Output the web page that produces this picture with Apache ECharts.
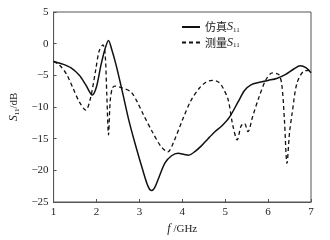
<!DOCTYPE html>
<html>
<head>
<meta charset="utf-8">
<script src="https://cdn.jsdelivr.net/npm/echarts@6/dist/echarts.min.js"></script>
<style>
	html, body { margin: 0; padding: 0; background: #fff; }
	#chartDom { width: 330px; height: 240px; }
</style>
</head>
<body>
<div id="chartDom"></div>
<script>
// 仿真 S11
var freqSim = [1.0, 1.2, 1.4, 1.6, 1.75, 1.9, 2.0, 2.1, 2.2, 2.28, 2.35, 2.45, 2.6, 2.75, 2.9, 3.08, 3.2, 3.28, 3.35, 3.45, 3.6, 3.75, 3.9, 4.05, 4.15, 4.3, 4.45, 4.6, 4.76, 4.92, 5.1, 5.3, 5.45, 5.6, 5.8, 6.0, 6.2, 6.4, 6.6, 6.75, 6.88, 7.0];
var s11Sim = [-2.8, -3.2, -3.8, -5.0, -6.5, -8.1, -6.8, -3.5, -0.8, 0.5, -0.8, -3.2, -7.5, -12, -15.8, -20, -22.5, -23.2, -22.8, -21.2, -18.8, -17.7, -17.3, -17.5, -17.6, -17.0, -16.1, -15, -13.9, -13, -11.6, -9.2, -7.4, -6.5, -6.1, -5.8, -5.5, -4.9, -4.0, -3.5, -3.8, -4.6];

// 测量 S11
var freqMeas = [1.0, 1.14, 1.3, 1.45, 1.6, 1.75, 1.86, 1.98, 2.06, 2.15, 2.2, 2.24, 2.28, 2.32, 2.37, 2.43, 2.6, 2.8, 2.95, 3.1, 3.3, 3.5, 3.66, 3.8, 4.0, 4.2, 4.4, 4.55, 4.7, 4.85, 4.95, 5.07, 5.18, 5.28, 5.37, 5.45, 5.53, 5.64, 5.79, 5.95, 6.1, 6.25, 6.32, 6.38, 6.44, 6.5, 6.56, 6.67, 6.82, 6.98];
var s11Meas = [-2.8, -3.4, -4.8, -7.0, -9.2, -10.5, -8.6, -4.2, -1.2, -0.2, -1.5, -8, -14.4, -9, -7, -6.7, -7.0, -7.6, -9.2, -11.3, -13.9, -16.2, -17.1, -15.5, -12.1, -9.0, -7.0, -6.1, -5.8, -6.1, -7.0, -8.9, -13, -15.2, -13, -12.6, -13.9, -11.5, -8.4, -5.7, -4.6, -4.9, -6.5, -12, -18.9, -14, -11, -6.3, -4.4, -4.2];

var xTicks = [1, 2, 3, 4, 5, 6, 7];
var yTicks = [-25, -20, -15, -10, -5, 0, 5];

var seriesNames = ['仿真S11', '测量S11'];

chartS11();

function pairs(xs, ys) {
	return xs.map(function(x, i) {
		return [x, ys[i]];
	});
}

function chartS11() {
	var dom = document.getElementById("chartDom");
	var myChart = echarts.init(dom);
	var serif = 'Liberation Serif';
	var subRich = {
		t: { fontFamily: 'Noto Sans CJK SC', fontSize: 11, color: '#222' },
		i: { fontFamily: serif, fontStyle: 'italic', fontSize: 12, color: '#222' },
		s: { fontFamily: serif, fontSize: 7, color: '#222', padding: [6, 0, 0, 0] },
		n: { fontFamily: serif, fontSize: 11, color: '#222' }
	};

	option = {
		animation: false,
		grid: {
			left: 49,
			right: 19,
			top: 12,
			bottom: 38,
			show: true,
			borderColor: '#555',
			borderWidth: 1
		},
		legend: {
			orient: 'vertical',
			left: 176,
			top: 16,
			itemWidth: 18,
			itemHeight: 10,
			itemGap: 3,
			data: seriesNames,
			itemStyle: { opacity: 0 },
			formatter: function(name) {
				return '{t|' + name.replace('S11', '') + '}{i|S}{s|11}';
			},
			textStyle: {
				rich: subRich
			}
		},
		xAxis: {
			type: 'value',
			min: xTicks[0],
			max: xTicks[xTicks.length - 1],
			interval: 1,
			name: '{i|f}{n| /GHz}',
			nameLocation: 'middle',
			nameGap: 17,
			nameTextStyle: { rich: subRich },
			axisLine: { onZero: false, lineStyle: { color: '#555' } },
			axisTick: { inside: true, length: 3, lineStyle: { color: '#555' } },
			splitLine: { show: false },
			axisLabel: {
				fontFamily: serif,
				fontSize: 11,
				color: '#222',
				margin: 5
			}
		},
		yAxis: {
			type: 'value',
			min: yTicks[0],
			max: yTicks[yTicks.length - 1],
			interval: 5,
			name: '{i|S}{s|11}{n|/dB}',
			nameLocation: 'middle',
			nameRotate: 90,
			nameGap: 33,
			nameTextStyle: { rich: subRich },
			axisLine: { onZero: false, lineStyle: { color: '#555' } },
			axisTick: { inside: true, length: 3, lineStyle: { color: '#555' } },
			splitLine: { show: false },
			axisLabel: {
				fontFamily: serif,
				fontSize: 11,
				color: '#222',
				margin: 5,
				formatter: function(v) {
					return String(v).replace('-', '\u2212');
				}
			}
		},
		series: [{
				name: seriesNames[0],
				type: 'line',
				smooth: 0.3,
				symbol: 'none',
				data: pairs(freqSim, s11Sim),
				lineStyle: { color: '#111', width: 1.5, type: 'solid' },
				itemStyle: { color: '#111' }
			},
			{
				name: seriesNames[1],
				type: 'line',
				smooth: 0.3,
				symbol: 'none',
				data: pairs(freqMeas, s11Meas),
				lineStyle: { color: '#111', width: 1.3, type: [4, 3] },
				itemStyle: { color: '#111' }
			}
		]
	};
	myChart.setOption(option, true);
};
</script>
</body>
</html>
